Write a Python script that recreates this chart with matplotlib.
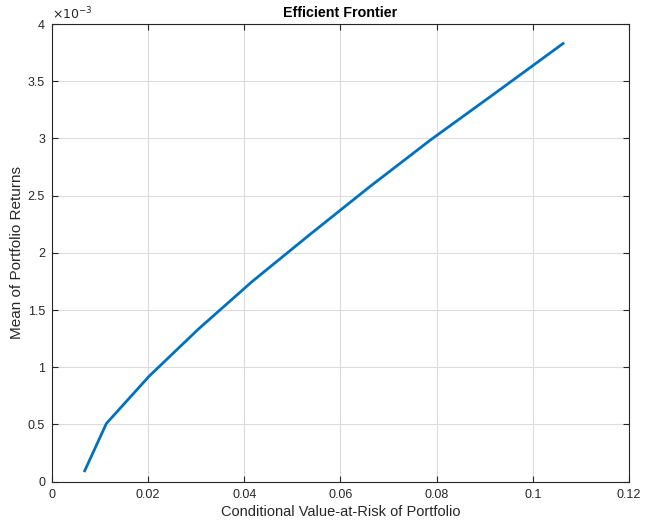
import matplotlib
matplotlib.use('Agg')
from matplotlib import pyplot as plt

# frontier points
cvar = [0.0068, 0.0113, 0.0202, 0.0305, 0.0416, 0.0537, 0.0660, 0.0788, 0.0924, 0.1063]
mean_ret = [0.094, 0.507, 0.921, 1.335, 1.748, 2.162, 2.575, 2.989, 3.403, 3.830]  # x 1e-3

x_ticks = [0, 0.02, 0.04, 0.06, 0.08, 0.1, 0.12]
x_labels = ['0', '0.02', '0.04', '0.06', '0.08', '0.1', '0.12']
y_ticks = [0, 0.5, 1, 1.5, 2, 2.5, 3, 3.5, 4]
y_labels = ['0', '0.5', '1', '1.5', '2', '2.5', '3', '3.5', '4']

plt.rcParams['font.family'] = ['Liberation Sans', 'DejaVu Sans']

fig = plt.figure(figsize=(6.46, 5.24), dpi=100)
ax = fig.add_axes([0.0805, 0.081, 0.893, 0.873])

ax.plot(cvar, mean_ret, color='#0072BD', linewidth=2)

ax.set_xlim(0, 0.12)
ax.set_ylim(0, 4)
ax.set_xticks(x_ticks)
ax.set_xticklabels(x_labels)
ax.set_yticks(y_ticks)
ax.set_yticklabels(y_labels)

ax.grid(True, color='#dcdcdc', linewidth=0.8)
ax.set_axisbelow(True)
ax.tick_params(direction='in', top=True, right=True, length=4, width=0.8,
               labelsize=9, colors='#262626', pad=5)
for s in ax.spines.values():
    s.set_color('#262626')
    s.set_linewidth(0.8)

ax.set_title('Efficient Frontier', fontsize=10.3, fontweight='bold', color='#000000', pad=5)
ax.set_xlabel('Conditional Value-at-Risk of Portfolio', fontsize=10.5, color='#262626', labelpad=3)
ax.set_ylabel('Mean of Portfolio Returns', fontsize=11, color='#262626', labelpad=3)
ax.text(0.0, 1.005, r'$\times10^{-3}$', transform=ax.transAxes, fontsize=9,
        color='#262626', ha='left', va='bottom')

plt.savefig('out.png', dpi=100)
